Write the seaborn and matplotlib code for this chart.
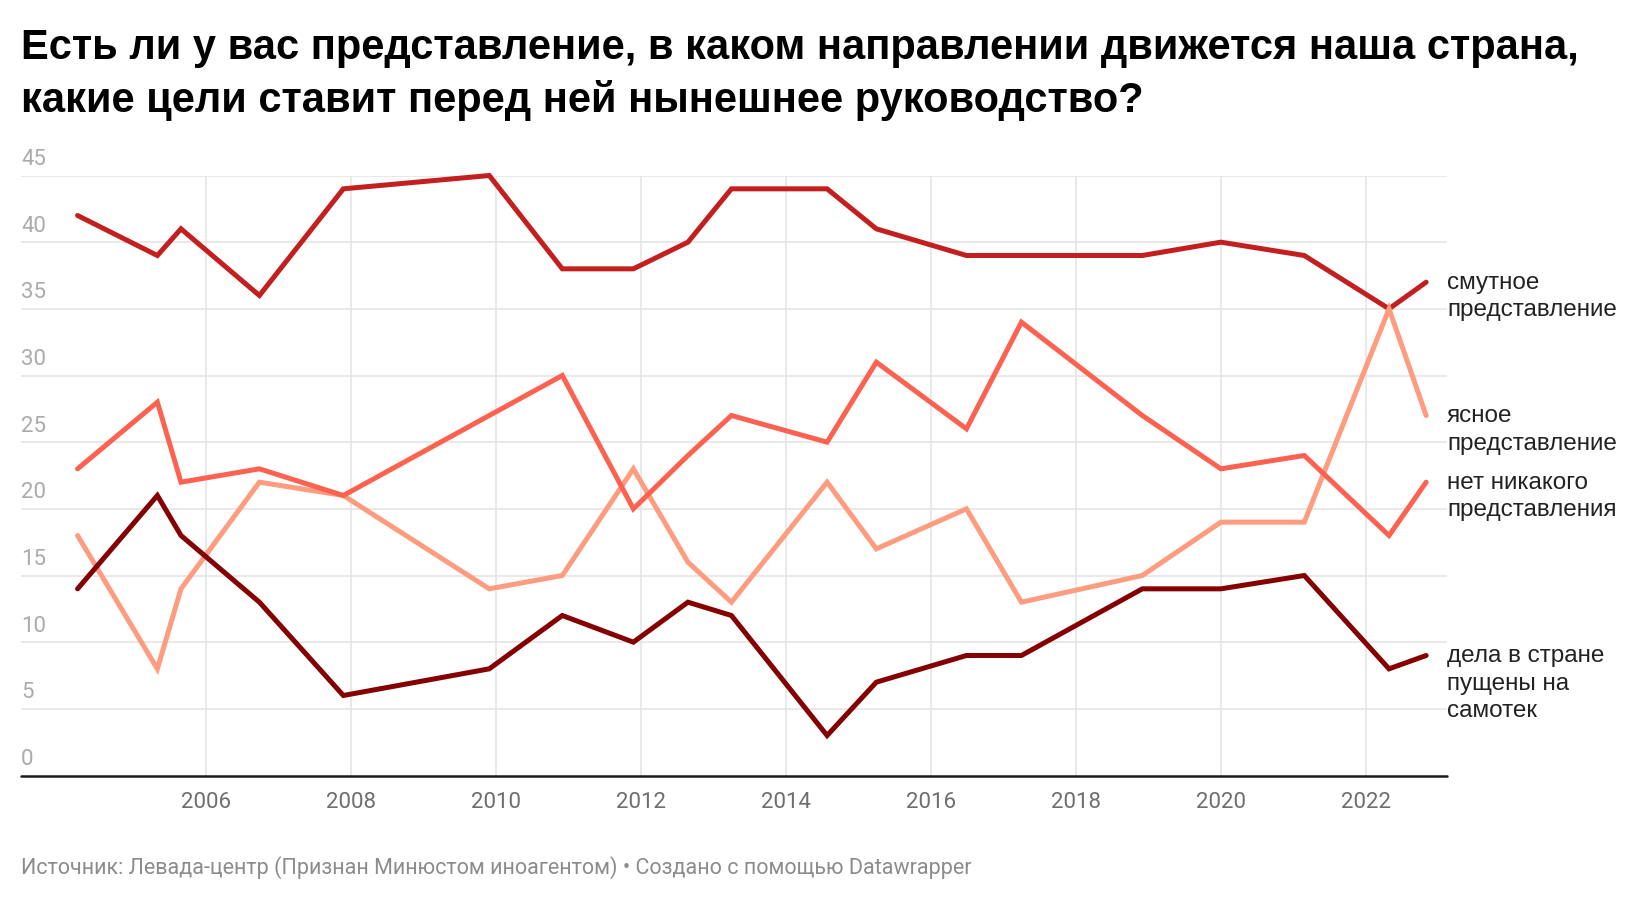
import pandas as pd
import matplotlib
matplotlib.use("Agg")
import matplotlib.pyplot as plt
import matplotlib.dates as mdates
import seaborn as sns

# Survey dates (Levada), approximate from the chart
dates = ["2004-03-25", "2005-05-01", "2005-08-28", "2006-09-27", "2007-11-24",
         "2009-11-28", "2010-12-01", "2011-11-24", "2012-08-25", "2013-04-01",
         "2014-07-27", "2015-04-01", "2016-06-28", "2017-04-01", "2018-12-01",
         "2020-01-01", "2021-02-24", "2022-04-27", "2022-10-31"]

vague = [42, 39, 41, 36, 44, 45, 38, 38, 40, 44, 44, 41, 39, 39, 39, 40, 39, 35, 37]
clear = [18, 8, 14, 22, 21, 14, 15, 23, 16, 13, 22, 17, 20, 13, 15, 19, 19, 35, 27]
none_ = [23, 28, 22, 23, 21, 27, 30, 20, 24, 27, 25, 31, 26, 34, 27, 23, 24, 18, 22]
adrift = [14, 21, 18, 13, 6, 8, 12, 10, 13, 12, 3, 7, 9, 9, 14, 14, 15, 8, 9]

series_names = ["смутное\nпредставление", "ясное\nпредставление",
                "нет никакого\nпредставления", "дела в стране\nпущены на\nсамотек"]
series_colors = ["#c41f1f", "#fd9c7f", "#fd6250", "#850000"]

y_ticks = [0, 5, 10, 15, 20, 25, 30, 35, 40, 45]
x_years = [2006, 2008, 2010, 2012, 2014, 2016, 2018, 2020, 2022]

title = ("Есть ли у вас представление, в каком направлении движется наша страна,\n"
         "какие цели ставит перед ней нынешнее руководство?")
footer = "Источник: Левада-центр (Признан Минюстом иноагентом) • Создано с помощью Datawrapper"


def build_frame() -> pd.DataFrame:
    wide = pd.DataFrame({"date": pd.to_datetime(dates)})
    for name, vals in zip(series_names, [vague, clear, none_, adrift]):
        wide[name] = vals
    return wide.melt(id_vars="date", var_name="series", value_name="value")


def plot(df: pd.DataFrame) -> None:
    sns.set_style("white")
    plt.rcParams["font.family"] = ["Liberation Sans", "DejaVu Sans"]

    fig = plt.figure(figsize=(16.4, 9.02), dpi=100)
    ax = fig.add_axes([21 / 1640, 1 - 775.5 / 902, 1426 / 1640, 600 / 902])

    sns.lineplot(data=df, x="date", y="value", hue="series",
                 palette=dict(zip(series_names, series_colors)),
                 linewidth=3.6, legend=False, ax=ax)
    for line in ax.lines:
        line.set_solid_capstyle("round")
        line.set_solid_joinstyle("miter")
        line.set_clip_on(False)

    ax.set_xlim(pd.Timestamp("2003-06-14"), pd.Timestamp("2023-02-13"))
    ax.set_ylim(0, 45)

    # grid
    for v in y_ticks[1:]:
        ax.axhline(v, color="#e5e5e5", lw=1.2, zorder=0)
    for yr in x_years:
        ax.axvline(pd.Timestamp(f"{yr}-01-01"), color="#e5e5e5", lw=1.2, zorder=0)
    ax.axhline(0, color="#1a1a1a", lw=1.8, zorder=3, clip_on=False)

    for s in ax.spines.values():
        s.set_visible(False)

    ax.set_xticks([pd.Timestamp(f"{yr}-01-01") for yr in x_years])
    ax.xaxis.set_major_formatter(mdates.DateFormatter("%Y"))
    ax.tick_params(axis="x", length=0, pad=12, labelsize=16, labelcolor="#6e6e6e")
    for lbl in ax.get_xticklabels():
        lbl.set_fontfamily("Roboto")
    ax.set_yticks([])
    ax.set_xlabel("")
    ax.set_ylabel("")

    # y labels above the grid lines
    for v in y_ticks:
        ax.annotate(str(v), xy=(0, v), xycoords=("axes fraction", "data"),
                    xytext=(0, 11.5), textcoords="offset points",
                    ha="left", va="center", fontsize=16, color="#ababab",
                    family="Roboto")

    # direct labels at the end of each line
    last_vals = [vague[-1], clear[-1], none_[-1], adrift[-1]]
    for name, v in zip(series_names, last_vals):
        ax.annotate(name, xy=(1, v), xycoords=("axes fraction", "data"),
                    xytext=(0, 7.5), textcoords="offset points",
                    ha="left", va="top", fontsize=17.5, color="#222222",
                    linespacing=1.32)

    fig.text(21 / 1640, 1 - 28 / 902, title, ha="left", va="top",
             fontsize=30, fontweight="bold", color="#000000", linespacing=1.36)
    fig.text(21 / 1640, 1 - 868 / 902, footer, ha="left", va="center",
             fontsize=15.5, color="#8c8c8c", family="Roboto")

    fig.savefig("out.png", dpi=100, facecolor="white")


def main() -> None:
    df = build_frame()
    plot(df)


if __name__ == "__main__":
    main()
